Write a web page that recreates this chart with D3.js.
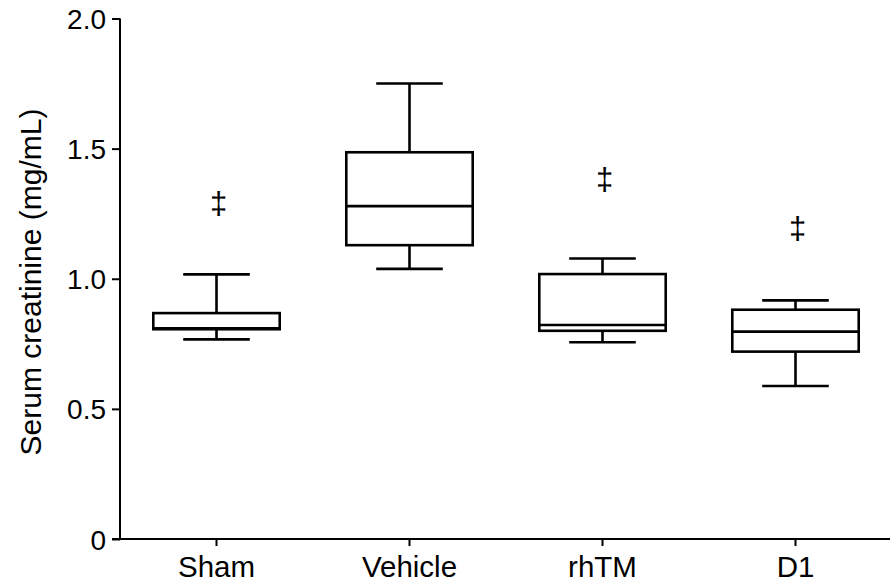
<!DOCTYPE html>
<html><head><meta charset="utf-8">
<script src="https://cdn.jsdelivr.net/npm/d3@7"></script>
<style>body{margin:0;background:#fff}svg{display:block}text{font-family:"Liberation Sans",Arial,sans-serif;fill:#000}</style>
</head><body><svg id="c" width="890" height="582"></svg>
<script>
const categories = ["Sham","Vehicle","rhTM","D1"];
const whiskerLow = [0.767,1.038,0.756,0.588];
const q1 = [0.806,1.129,0.800,0.720];
const median = [0.810,1.279,0.822,0.797];
const q3 = [0.868,1.486,1.018,0.881];
const whiskerHigh = [1.017,1.750,1.078,0.917];
const markPos = [1.285,1.375,1.19];
const markCats = ["Sham","rhTM","D1"];
const yTicks = [0,0.5,1.0,1.5,2.0];
const yTickLabels = ["0","0.5","1.0","1.5","2.0"];

const svg = d3.select("#c");
const x = d3.scaleBand().domain(categories).range([120,892]).padding(0);
const y = d3.scaleLinear().domain([0,2]).range([539,18.5]);

const yAxis = d3.axisLeft(y).tickValues(yTicks).tickFormat((d,i)=>yTickLabels[i]).tickSize(8).tickPadding(6);
const gy = svg.append("g").attr("transform","translate(120,0)").call(yAxis);
gy.select(".domain").attr("d","M0,18.5V539").attr("stroke-width",2);
gy.selectAll(".tick line").attr("stroke-width",2);
gy.selectAll(".tick text").style("font-size","28px").attr("dy","0.36em");

const xAxis = d3.axisBottom(x).tickSize(7).tickPadding(8);
const gx = svg.append("g").attr("transform","translate(0,539)").call(xAxis);
gx.select(".domain").attr("d","M112,0H890").attr("stroke-width",2);
gx.selectAll(".tick line").attr("stroke-width",2);
gx.selectAll(".tick text").attr("dy",null).attr("y",38).style("font-size","29.5px");

svg.append("text").attr("transform","translate(41,282) rotate(-90)").attr("text-anchor","middle")
  .style("font-size","30px").text("Serum creatinine (mg/mL)");

const bw = x.bandwidth()*0.655, cw = x.bandwidth()*0.345;
const data = categories.map((c,i)=>({c,lo:whiskerLow[i],q1:q1[i],med:median[i],q3:q3[i],hi:whiskerHigh[i]}));
const g = svg.append("g").attr("stroke","#000").attr("stroke-width",2.6).attr("fill","none");
data.forEach(d=>{
  const cx = x(d.c)+x.bandwidth()/2;
  g.append("line").attr("x1",cx).attr("x2",cx).attr("y1",y(d.hi)).attr("y2",y(d.q3));
  g.append("line").attr("x1",cx).attr("x2",cx).attr("y1",y(d.q1)).attr("y2",y(d.lo));
  g.append("line").attr("x1",cx-cw/2).attr("x2",cx+cw/2).attr("y1",y(d.hi)).attr("y2",y(d.hi));
  g.append("line").attr("x1",cx-cw/2).attr("x2",cx+cw/2).attr("y1",y(d.lo)).attr("y2",y(d.lo));
  g.append("rect").attr("x",cx-bw/2).attr("width",bw).attr("y",y(d.q3)).attr("height",y(d.q1)-y(d.q3));
  g.append("line").attr("x1",cx-bw/2).attr("x2",cx+bw/2).attr("y1",y(d.med)).attr("y2",y(d.med));
});
markCats.forEach((c,i)=>{
  svg.append("text").attr("x",x(c)+x.bandwidth()/2+2).attr("y",y(markPos[i])).attr("dy","0.3em")
    .attr("text-anchor","middle").style("font-size","31px").text("‡");
});
</script></body></html>
